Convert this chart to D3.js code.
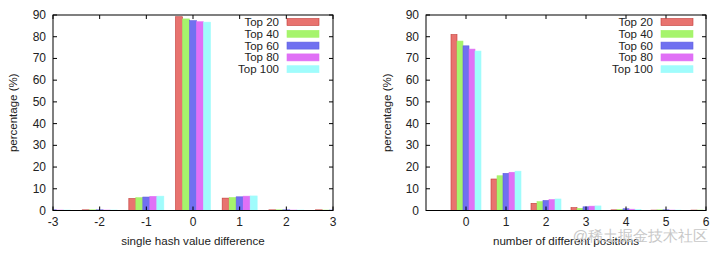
<!DOCTYPE html>
<html>
<head>
<meta charset="utf-8">
<script src="https://cdn.jsdelivr.net/npm/d3@7"></script>
<style>
  body { margin: 0; background: #fff; }
  text { font-family: "Liberation Sans", Arial, sans-serif; fill: #222; }
</style>
</head>
<body>
<div id="chart"></div>
<script>
// series names + colours
var seriesNames = ['Top 20', 'Top 40', 'Top 60', 'Top 80', 'Top 100'];
var fills   = ['#e8736f', '#a6f46c', '#7070f0', '#e070f6', '#a0fcfc'];
var strokes = ['#c23a36', '#a6f46c', '#6060e0', '#e070f6', '#a0fcfc'];

// left panel: single hash value difference
var hashCats = [-3, -2, -1, 0, 1, 2, 3];
var hashVals = [
  [0.3, 0.3, 5.5, 89.2, 5.7, 0.3, 0.3],
  [0.3, 0.3, 5.9, 88.2, 6.0, 0.3, 0.2],
  [0.3, 0.3, 6.2, 87.4, 6.3, 0.3, 0.2],
  [0.2, 0.2, 6.5, 86.9, 6.6, 0.2, 0.2],
  [0.2, 0.2, 6.6, 86.7, 6.7, 0.2, 0.2]
];

// right panel: number of different positions
var posCats = [0, 1, 2, 3, 4, 5, 6];
var posVals = [
  [81.0, 14.5, 3.3, 1.3, 0.3, 0.2, 0.2],
  [78.0, 16.0, 4.1, 1.0, 0.5, 0.3, 0.2],
  [75.8, 17.1, 4.6, 1.7, 0.8, 0.3, 0.1],
  [74.3, 17.6, 5.0, 2.0, 0.6, 0.2, 0.1],
  [73.4, 18.1, 5.3, 2.1, 0.4, 0.2, 0.1]
];

var yTicks = [0, 10, 20, 30, 40, 50, 60, 70, 80, 90];

var svg = d3.select('#chart').append('svg')
  .attr('width', 719).attr('height', 253);

function panel(opts){
  var x = d3.scaleLinear().domain(opts.domain).range([opts.left, opts.right]);
  var y = d3.scaleLinear().domain([0, 90]).range([opts.bottom, opts.top]);
  var g = svg.append('g');
  var clipId = 'clip' + opts.id;

  g.append('clipPath').attr('id', clipId).append('rect')
    .attr('x', opts.left).attr('y', opts.top)
    .attr('width', opts.right - opts.left).attr('height', opts.bottom - opts.top);

  var bw = 0.15; // bar width in data units
  var bars = g.append('g').attr('clip-path', 'url(#' + clipId + ')');
  opts.vals.forEach(function(row, s){
    bars.selectAll('.b' + s)
      .data(row.map(function(v, i){ return {c: opts.cats[i], v: v}; }))
      .enter().append('rect')
        .attr('x', d => x(d.c - 0.375 + s * bw))
        .attr('width', x(bw) - x(0))
        .attr('y', d => y(d.v))
        .attr('height', d => y(0) - y(d.v))
        .attr('fill', fills[s])
        .attr('stroke', strokes[s])
        .attr('stroke-width', 0.6);
  });

  // frame
  g.append('rect')
    .attr('x', opts.left).attr('y', opts.top)
    .attr('width', opts.right - opts.left).attr('height', opts.bottom - opts.top)
    .attr('fill', 'none').attr('stroke', '#000').attr('stroke-width', 1);

  var tl = 4;
  // y ticks (mirrored)
  yTicks.forEach(function(t){
    g.append('line').attr('x1', opts.left).attr('x2', opts.left + tl)
      .attr('y1', y(t)).attr('y2', y(t)).attr('stroke', '#000');
    g.append('line').attr('x1', opts.right).attr('x2', opts.right - tl)
      .attr('y1', y(t)).attr('y2', y(t)).attr('stroke', '#000');
    g.append('text').attr('x', opts.left - 7).attr('y', y(t) + 4)
      .attr('text-anchor', 'end').attr('font-size', 12).text(t);
  });
  // x ticks (mirrored)
  opts.xticks.forEach(function(t){
    g.append('line').attr('x1', x(t)).attr('x2', x(t))
      .attr('y1', opts.bottom).attr('y2', opts.bottom - tl).attr('stroke', '#000');
    g.append('line').attr('x1', x(t)).attr('x2', x(t))
      .attr('y1', opts.top).attr('y2', opts.top + tl).attr('stroke', '#000');
    g.append('text').attr('x', x(t)).attr('y', opts.bottom + 15)
      .attr('text-anchor', 'middle').attr('font-size', 12).text(t);
  });

  g.append('text')
    .attr('transform', 'translate(' + opts.ylabX + ',' + ((opts.top + opts.bottom) / 2) + ') rotate(-90)')
    .attr('text-anchor', 'middle').attr('font-size', 11.5).text('percentage (%)');
  g.append('text').attr('x', (opts.left + opts.right) / 2).attr('y', 245)
    .attr('text-anchor', 'middle').attr('font-size', 11.6).text(opts.xlabel);

  // legend
  seriesNames.forEach(function(n, i){
    var ly = 22 + i * 11.8;
    g.append('text').attr('x', opts.legX).attr('y', ly + 4)
      .attr('text-anchor', 'end').attr('font-size', 11.5).text(n);
    g.append('rect').attr('x', opts.legX + 8).attr('y', ly - 3.5)
      .attr('width', 32).attr('height', 7)
      .attr('fill', fills[i]).attr('stroke', strokes[i]).attr('stroke-width', 0.6);
  });
}

panel({id: 'L', domain: [-3, 3], left: 53, right: 333, top: 15, bottom: 210.5,
  cats: hashCats, vals: hashVals, xticks: hashCats, ylabX: 17,
  xlabel: 'single hash value difference', legX: 279});

panel({id: 'R', domain: [-1, 6], left: 426, right: 706, top: 15, bottom: 210.5,
  cats: posCats, vals: posVals, xticks: posCats, ylabX: 391,
  xlabel: 'number of different positions', legX: 653});

// site watermark from the source image
svg.append('text').attr('x', 708).attr('y', 241).attr('text-anchor', 'end')
  .attr('font-size', 15).style('fill', '#c8c8c8')
  .attr('font-family', '"Noto Sans CJK SC", sans-serif')
  .text('@稀土掘金技术社区');
</script>
</body>
</html>
